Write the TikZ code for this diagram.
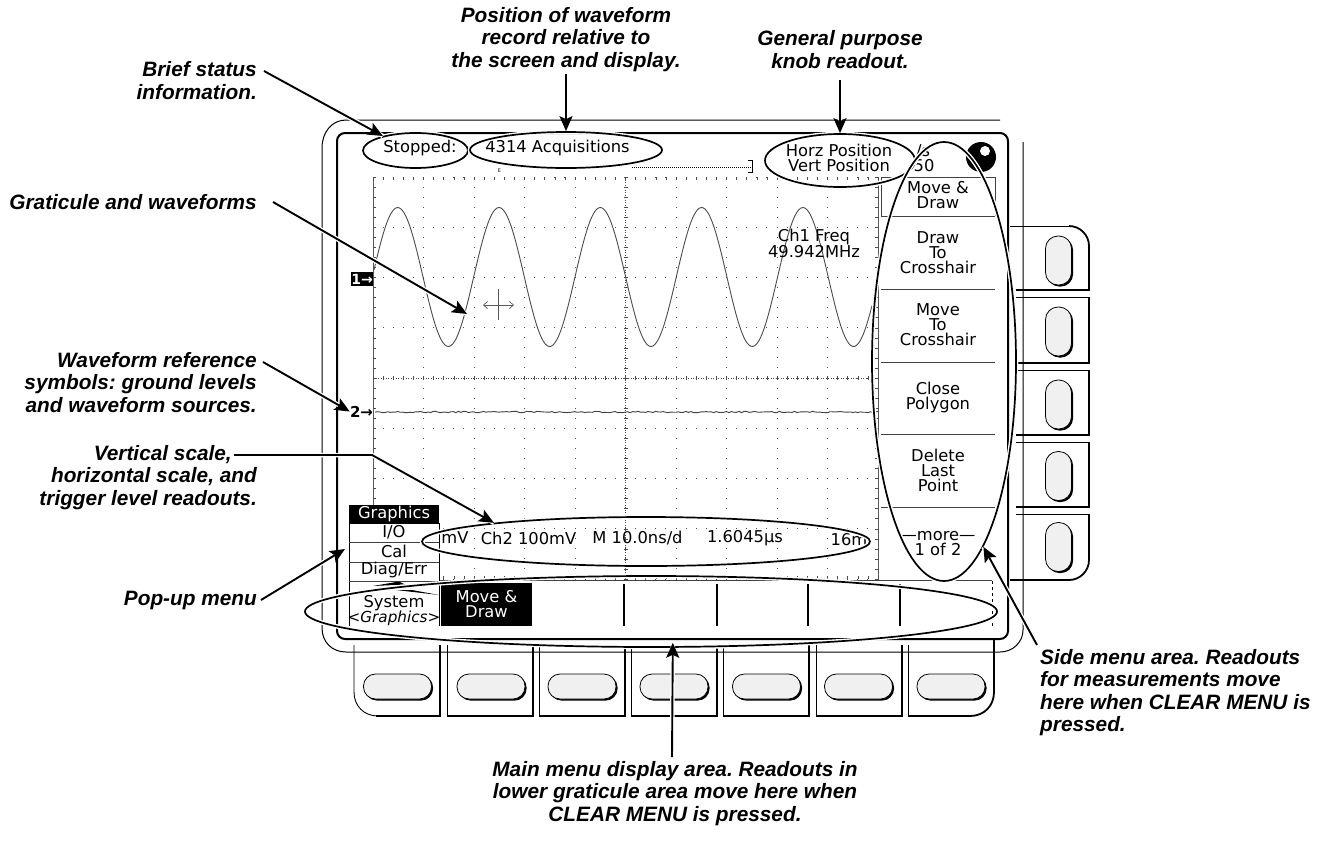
\documentclass[tikz,border=0pt]{standalone}
\usepackage{fontspec}
\setmainfont{Liberation Sans}
\newfontfamily\scr{DejaVu Sans}
\usetikzlibrary{shapes.geometric,arrows.meta,shadows}
\definecolor{btn}{HTML}{F0F0F0}
\frenchspacing
\tikzset{
  lbl/.style={font=\bfseries\itshape\fontsize{20.8}{22.5}\selectfont\frenchspacing,inner sep=0pt,text=black},
  ro/.style={font=\scr\fontsize{16.3}{15}\selectfont,inner sep=0pt,text=black},
  rolines/.style={font=\scr\fontsize{16.3}{15}\selectfont,inner sep=0pt,align=center,text=black},
  ring/.style={ellipse,draw=black,line width=1.7pt,inner sep=0pt,preaction={draw=white,line width=4.5pt}},
  call/.style={line width=1.9pt,-{Stealth[length=15pt,width=13pt,inset=3pt]},preaction={draw=white,line width=4.5pt,arrows=-}},
  thinl/.style={line width=0.9pt},
  thickl/.style={line width=1.8pt},
  hbtn/.style={draw=black,line width=0.8pt,fill=btn,rounded corners=12pt,minimum width=68pt,minimum height=25pt,inner sep=0pt,general shadow={fill=black,shadow xshift=1.6pt,shadow yshift=-1.6pt}},
  vbtn/.style={draw=black,line width=0.8pt,fill=btn,rounded corners=12.5pt,minimum width=26pt,minimum height=49pt,inner sep=0pt,general shadow={fill=black,shadow xshift=1.6pt,shadow yshift=-1.6pt}},
  sep/.style={line width=0.8pt,draw=black!75},
}
\begin{document}
\begin{tikzpicture}[x=1pt,y=-1pt]
\useasboundingbox (0,0) rectangle (1323,841);
\fill[white] (0,0) rectangle (1323,841);

% ---- bottom bezels
\draw[thinl] (354,645) -- (354,692) .. controls (354,706) and (364,716) .. (378,716);
\draw[thickl] (376,716) -- (440,716) -- (440,645);
\foreach \l/\r in {447/533,539/625,631/717,723/809,816/902}{
  \draw[thinl] (\l,645) -- (\l,716);
  \draw[thickl] (\l,716) -- (\r,716) -- (\r,645);
}
\draw[thinl] (908,645) -- (908,716);
\draw[thickl] (908,716) -- (970,716) .. controls (984,716) and (994,706) .. (994,692) -- (994,640);
% ---- right bezels
\draw[thinl] (1010,226) -- (1069,226);
\draw[thickl] (1069,226) .. controls (1080,226) and (1089,235) .. (1089,246) -- (1089,290) -- (1016,290);
\foreach \t/\b in {297/363,370/435,442/507}{
  \draw[thinl] (1016,\t) -- (1089,\t);
  \draw[thickl] (1089,\t) -- (1089,\b) -- (1016,\b);
}
\draw[thinl] (1016,514) -- (1089,514);
\draw[thickl] (1089,514) -- (1089,560) .. controls (1089,571) and (1080,580) .. (1069,580) -- (1010,580);
% buttons
\foreach \n/\x in {1/397.5,2/491,3/582,4/674,5/766.5,6/858.5,7/951}{
  \node[hbtn] (bb\n) at (\x,686.5) {};
}
\foreach \n/\y in {1/260.5,2/331.5,3/404.5,4/476,5/547}{
  \node[vbtn] (sb\n) at (1058.5,\y) {};
}
% ---- frames
\draw[line width=1pt] (1000,120) -- (346,120) .. controls (332,120) and (322,132) .. (322,148) -- (322,628) .. controls (322,642) and (332,652) .. (346,652) -- (1000,652) .. controls (1013,652) and (1023,642) .. (1023,630) -- (1023,142);
\draw[line width=2pt,rounded corners=8pt] (337,133) rectangle (1008,639);

% ---- graticule
\begin{scope}[black!70]
\draw[line width=0.8pt,black!65] (373,177) -- (373,579);
\draw[line width=0.8pt,black!65] (878,177) -- (878,580);
\foreach \i in {0,...,10}{\pgfmathsetmacro\gx{373+50.5*\i}
  \foreach \j in {0,...,40}{\pgfmathsetmacro\gy{177+10.05*\j}
    \fill (\gx-0.5,\gy-0.5) rectangle +(1,1);}}
\foreach \j in {0,...,8}{\pgfmathsetmacro\gy{177+50.25*\j}
  \foreach \i in {0,...,50}{\pgfmathsetmacro\gx{373+10.1*\i}
    \fill (\gx-0.5,\gy-0.5) rectangle +(1,1);}}
% edge ticks
\foreach \j in {0,...,40}{\pgfmathsetmacro\gy{177+10.05*\j}
  \draw[line width=0.5pt] (373,\gy) -- +(3,0) (878,\gy) -- +(-3,0);}
\foreach \i in {0,...,50}{\pgfmathsetmacro\gx{373+10.1*\i}
  \draw[line width=0.5pt] (\gx,177) -- +(0,3) (\gx,579) -- +(0,-3);}
% centre lines
\draw[line width=0.7pt,dash pattern=on 1pt off 1.5pt] (373,378) -- (878,378);
\draw[line width=0.7pt,dash pattern=on 1pt off 1.5pt] (625.5,177) -- (625.5,579);
\foreach \i in {0,...,50}{\pgfmathsetmacro\gx{373+10.1*\i}
  \draw[line width=0.5pt] (\gx,376) -- +(0,4);}
\foreach \j in {0,...,40}{\pgfmathsetmacro\gy{177+10.05*\j}
  \draw[line width=0.5pt] (623.5,\gy) -- +(4,0);}
\end{scope}

% ---- waveforms
\draw[line width=0.9pt,black!70] plot[domain=374:872,samples=260,smooth] (\x,{277-69.5*cos((\x-397.7)/101.3*360)});
\pgfmathsetseed{7}
\draw[line width=0.9pt,black!75] plot[domain=375:878,samples=200] (\x,{412+0.7*rand});
% crosshair
\draw[line width=0.7pt,black!65,{Straight Barb[length=4pt,width=7pt]}-{Straight Barb[length=4pt,width=7pt]}] (483,305) -- (514,305);
\draw[line width=0.7pt,black!65] (498.5,289) -- (498.5,320);
% record bar
\draw[line width=0.8pt,dash pattern=on 1pt off 1pt] (632,167) -- (752,167);
\draw[line width=0.9pt] (748,160.5) -- (752,160.5) -- (752,172.5) -- (748,172.5);
\node[font=\scr\fontsize{5}{6}\selectfont,inner sep=0pt] (trigmark) at (499.5,170.5) {E};

% ---- channel markers
\fill[black] (351,272) rectangle (373,286);
\node[ro,font=\scr\bfseries\fontsize{14}{14}\selectfont,text=white] (refone) at (362,279) {1→};
\node[ro,font=\scr\bfseries\fontsize{15}{15}\selectfont] (reftwo) at (361.5,411.5) {2→};

% ---- side menu
\draw[sep] (881,216) -- (881,177) -- (995,177) -- (995,216);
\fill[white] (882,178) rectangle (994,215);
\foreach \y in {216,289,362,434,507}{\draw[sep] (881,\y) -- (995,\y);}
\node[rolines] (m1) at (938,195.5) {Move \&\\Draw};
\node[rolines] (m2) at (938,253) {Draw\\To\\Crosshair};
\node[rolines] (m3) at (938,325) {Move\\To\\Crosshair};
\node[rolines] (m4) at (938,397.5) {Close\\Polygon};
\node[rolines] (m5) at (938,470) {Delete\\Last\\Point};
\node[rolines] (m6) at (938,543.5) {—more—\\1 of 2};

% ---- main menu
\fill[white] (374,580) rectangle (992,626);
\draw[sep] (349,580.5) -- (992,580.5);
\foreach \x in {624,717,808,900}{\draw[line width=1.3pt] (\x,584) -- (\x,626);}
\draw[line width=1pt,dash pattern=on 3pt off 3pt] (992,581) -- (992,626);
\fill[white] (349,523) rectangle (439,626);
\draw[line width=0.9pt] (349,626) -- (349,523) -- (439,523) -- (439,626);
\node[fill=black,text=white,font=\scr\fontsize{16.3}{15}\selectfont,minimum width=90pt,minimum height=18pt,inner sep=0pt] (gfx) at (394,514) {Graphics};
\foreach \y in {542,562,581}{\draw[sep] (349,\y) -- (439,\y);}
\node[ro] (io) at (394,532) {I/O};
\node[ro] (cal) at (394,551) {Cal};
\node[ro] (diag) at (394,570) {Diag/Err};
\fill[black] (373,586) -- (399,581.5) -- (405,584.5) -- cycle;
\fill[black] (396,590) -- (412,590) -- (439,595) -- cycle;
\node[ro] (sys) at (394,603) {System};
\node[ro,font=\scr\itshape\fontsize{15.2}{15}\selectfont] (sysg) at (394,618) {<Graphics>};
\node[fill=black,rolines,text=white,minimum width=91pt,minimum height=43pt] (mvd) at (486.5,604.5) {Move \&\\Draw};

% ---- readouts
\node[ro] (stp) at (420,148) {Stopped:};
\node[ro] (acq) at (557.5,148) {4314 Acquisitions};
\node[rolines] (hv) at (839,158) {Horz Position\\Vert Position};
\node[ro] (t1) at (923,151) {/s};
\node[ro] (t2) at (924,166) {50};
\node[rolines] (frq) at (814,243.5) {Ch1 Freq\\49.942MHz};
\node[ro] (r1) at (455,538) {mV};
\node[ro] (r2) at (528.5,538) {Ch2 100mV};
\node[ro] (r3) at (637.5,538) {M 10.0ns/d};
\node[ro] (r4) at (745,538) {1.6045µs};
\node[ro] (r5) at (849,540) {16m};
% knob
\fill[black] (981,157) circle (15);
\fill[white] (985,151) circle (5);

% ---- callout rings
\node[ring,minimum width=105pt,minimum height=35pt] (estopped) at (415.5,150.5) {};
\node[ring,minimum width=192pt,minimum height=36pt] (eacq) at (566,150) {};
\node[ring,minimum width=150pt,minimum height=53pt] (eknob) at (840,160.5) {};
\node[ring,minimum width=144pt,minimum height=439pt] (eside) at (944,361.5) {};
\node[ring,minimum width=448pt,minimum height=49pt] (escale) at (646,541.5) {};
\node[ring,minimum width=692pt,minimum height=71pt] (emain) at (651,611.5) {};

% ---- labels
\node[lbl,align=right,anchor=east] (lbrief) at (257,80.5) {Brief status\\information.};
\node[lbl,align=center] (lpos) at (566,39.5) {Position of waveform\\record relative to\\the screen and display.};
\node[lbl,align=center] (lgen) at (840,49.5) {General purpose\\knob readout.};
\node[lbl,align=right,anchor=east] (lgrat) at (257,202) {Graticule and waveforms};
\node[lbl,align=right,anchor=east] (lref) at (257,382.5) {Waveform reference\\symbols: ground levels\\and waveform sources.};
\node[lbl,align=right,anchor=east] (lscale) at (257,477.5) {Vertical scale,\hspace*{25pt}\\horizontal scale, and\\trigger level readouts.};
\node[lbl,align=right,anchor=east] (lpop) at (257,600) {Pop-up menu};
\node[lbl,align=center] (lmain) at (675,793.5) {Main menu display area. Readouts in\\lower graticule area move here when\\CLEAR MENU is pressed.};
\node[lbl,align=left,anchor=west] (lside) at (1040,692.5) {Side menu area. Readouts\\for measurements move\\here when CLEAR MENU is\\pressed.};

% ---- connector ends
\coordinate (cbrief) at (264,71);
\coordinate (cgrat) at (273,202);
\coordinate (wavept) at (467,314);
\coordinate (cref) at (263,362);
\coordinate (cscale) at (234,455);
\coordinate (cbend) at (372,455);
\coordinate (cpop) at (261,600);
\coordinate (popuptip) at (345,549);
\coordinate (cmain) at (672,757);
\coordinate (cside) at (1037,645);
\coordinate (cpos) at (566,74);
\coordinate (cgen) at (840,80);

\draw[call] (cbrief) -- (estopped.156.6);
\draw[call] (cpos) -- (eacq.north);
\draw[call] (cgen) -- (eknob.north);
\draw[call] (cgrat) -- (wavept);
\draw[call] (cref) -- (reftwo.west);
\draw[call] (cscale) -- (cbend) -- (escale.173.5);
\draw[call] (cpop) -- (popuptip);
\draw[call,shorten >=-5pt] (cmain) -- (emain.-59.4);
\draw[call] (cside) -- (eside.-78.5);
\end{tikzpicture}
\end{document}
